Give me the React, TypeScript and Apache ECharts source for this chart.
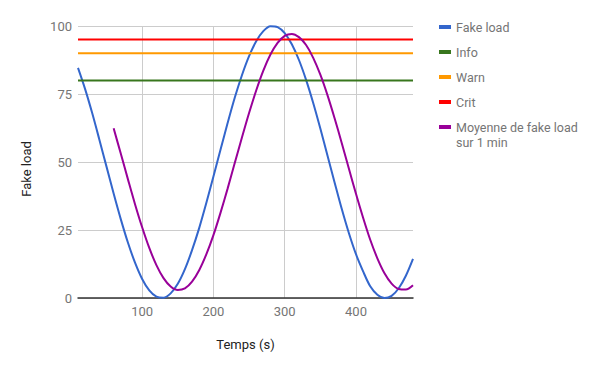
import React, { useEffect, useRef } from "react";
import * as echarts from "echarts";

const times: number[] = [10, 20, 30, 40, 50, 60, 70, 80, 90, 100, 110, 120, 130, 140, 150, 160, 170, 180, 190, 200, 210, 220, 230, 240, 250, 260, 270, 280, 290, 300, 310, 320, 330, 340, 350, 360, 370, 380, 390, 400, 410, 420, 430, 440, 450, 460, 470, 480];
const fakeLoad: number[] = [84.6, 76.8, 67.9, 58.2, 48.3, 38.4, 29.0, 20.4, 13.0, 7.0, 2.8, 0.5, 0.1, 1.7, 5.2, 10.6, 17.6, 25.7, 34.9, 44.7, 54.6, 64.4, 73.7, 81.9, 88.9, 94.4, 98.1, 99.9, 99.6, 97.4, 93.3, 87.5, 80.2, 71.7, 62.3, 52.4, 42.5, 32.8, 23.9, 16.1, 9.8, 4.3, 1.2, 0.0, 0.8, 3.6, 8.2, 14.4];
const avgTimes: number[] = [60, 70, 80, 90, 100, 110, 120, 130, 140, 150, 160, 170, 180, 190, 200, 210, 220, 230, 240, 250, 260, 270, 280, 290, 300, 310, 320, 330, 340, 350, 360, 370, 380, 390, 400, 410, 420, 430, 440, 450, 460, 470, 480];
const avgLoad: number[] = [62.4, 53.1, 43.7, 34.5, 26.0, 18.4, 12.1, 7.3, 4.2, 2.9, 3.5, 6.0, 10.2, 16.0, 23.1, 31.4, 40.3, 49.7, 59.0, 68.0, 76.3, 83.6, 89.5, 93.8, 96.4, 97.1, 95.9, 93.0, 88.3, 82.1, 74.6, 66.1, 57.0, 47.6, 38.3, 29.5, 21.4, 14.6, 9.1, 5.3, 3.3, 3.1, 4.7];
const infoLevel = 80;
const warnLevel = 90;
const critLevel = 95;
const xTicks: number[] = [100, 200, 300, 400];
const seriesNames: string[] = ["Fake load", "Info", "Warn", "Crit", "Moyenne de fake load\nsur 1 min"];
const seriesColors: string[] = ["#3366cc", "#38761d", "#ff9900", "#ff0000", "#990099"];

const FONT = "Roboto, Arial, sans-serif";

export default function App() {
  const ref = useRef<HTMLDivElement>(null);
  useEffect(() => {
    if (!ref.current) return;
    const chart = echarts.init(ref.current, null, { renderer: "svg" });
    const tMin = times[0];
    const tMax = times[times.length - 1];
    const flat = (v: number) => [[tMin, v], [tMax, v]];
    const lineSeries = (i: number, data: number[][], smooth: boolean | number) => ({
      name: seriesNames[i],
      type: "line",
      data,
      showSymbol: false,
      symbol: "none",
      smooth,
      lineStyle: { color: seriesColors[i], width: 2 },
      itemStyle: { color: seriesColors[i] },
      z: 3 + i,
    });
    const legendText = { color: "#757575", fontSize: 12.5, fontFamily: FONT, lineHeight: 15 };
    chart.setOption({
      animation: false,
      textStyle: { fontFamily: FONT },
      grid: { left: 78, right: 187, top: 26, bottom: 73, containLabel: false },
      xAxis: {
        type: "value",
        min: tMin,
        max: tMax,
        name: "Temps (s)",
        nameLocation: "middle",
        nameGap: 40,
        nameTextStyle: { color: "#222", fontSize: 13, fontFamily: FONT },
        axisLine: { show: true, lineStyle: { color: "#333", width: 1.5 } },
        axisTick: { show: false },
        axisLabel: {
          color: "#757575",
          fontSize: 13,
          fontFamily: FONT,
          margin: 7,
          customValues: xTicks,
        },
        splitLine: { show: true, showMinLine: false, showMaxLine: false, lineStyle: { color: "#cccccc", width: 1 } },
      },
      yAxis: {
        type: "value",
        min: 0,
        max: 100,
        interval: 25,
        name: "Fake load",
        nameLocation: "middle",
        nameRotate: 90,
        nameGap: 45,
        nameTextStyle: { color: "#222", fontSize: 13, fontFamily: FONT, padding: [0, 14, 0, 0] },
        axisLine: { show: false },
        axisTick: { show: false },
        axisLabel: { color: "#757575", fontSize: 13, fontFamily: FONT, margin: 6 },
        splitLine: { show: true, lineStyle: { color: "#cccccc", width: 1 } },
      },
      legend: [
        {
          orient: "vertical",
          left: 434,
          top: 14.5,
          itemWidth: 12,
          itemHeight: 4,
          itemGap: 10,
          icon: "rect",
          textStyle: legendText,
          data: seriesNames.slice(0, 4).map((n) => ({ name: n, icon: "rect" })),
        },
        {
          orient: "vertical",
          left: 434,
          top: 99.5,
          itemWidth: 12,
          itemHeight: 4,
          icon: "rect",
          textStyle: legendText,
          formatter: (n: string) => "\n" + n,
          data: [{ name: seriesNames[4], icon: "rect" }],
        },
      ],
      series: [
        lineSeries(0, times.map((t, i) => [t, fakeLoad[i]]), 0.3),
        lineSeries(1, flat(infoLevel), false),
        lineSeries(2, flat(warnLevel), false),
        lineSeries(3, flat(critLevel), false),
        lineSeries(4, avgTimes.map((t, i) => [t, avgLoad[i]]), 0.3),
      ],
    });
    return () => chart.dispose();
  }, []);
  return <div ref={ref} style={{ position: "absolute", left: 0, top: 0, width: 600, height: 371 }} />;
}
